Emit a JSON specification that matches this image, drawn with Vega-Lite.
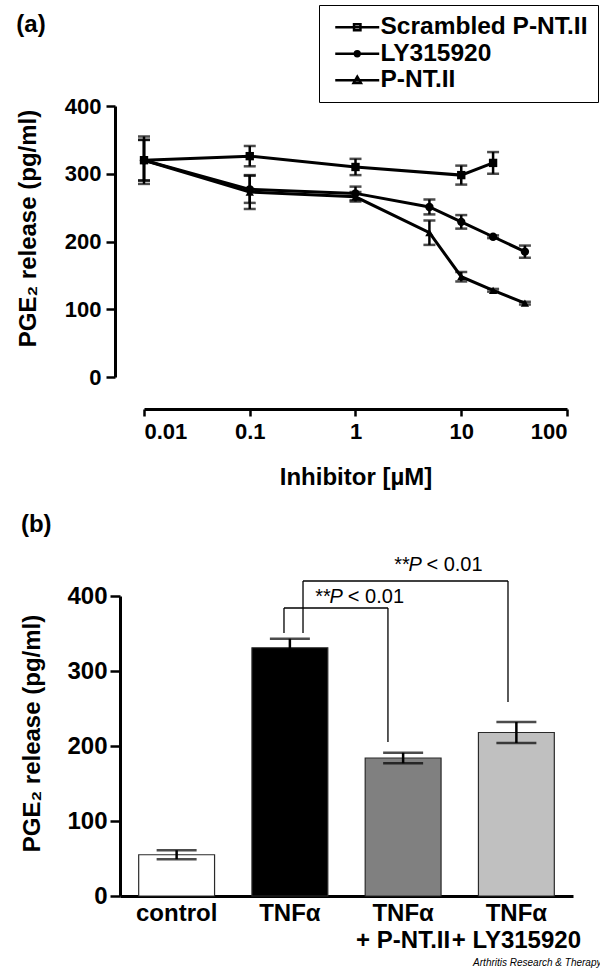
{
  "$schema": "https://vega.github.io/schema/vega-lite/v6.json",
  "background": "white",
  "padding": {"left": 16, "top": 4, "right": 3, "bottom": 3},
  "columns": 1,
  "spacing": 24,
  "config": {
    "font": "Liberation Sans",
    "view": {"stroke": null},
    "axis": {
      "grid": false,
      "domainColor": "black",
      "domainWidth": 3,
      "tickColor": "black",
      "tickWidth": 2.5,
      "labelColor": "black",
      "labelFont": "Liberation Sans",
      "labelFontWeight": "bold",
      "titleFont": "Liberation Sans",
      "titleFontWeight": "bold",
      "titleColor": "black",
      "titleFontSize": 24
    },
    "title": {"font": "Liberation Sans", "fontWeight": "bold", "fontSize": 24, "color": "black", "anchor": "start"}
  },
  "title": {"text": "Arthritis Research & Therapy", "orient": "bottom", "anchor": "end", "fontSize": 10, "fontStyle": "italic", "fontWeight": "normal", "offset": 6, "dx": 3},
  "datasets": {
    "series": [
      {"series": "Scrambled P-NT.II", "conc": 0.01, "mean": 320, "sem": 35},
      {"series": "Scrambled P-NT.II", "conc": 0.1, "mean": 326, "sem": 15},
      {"series": "Scrambled P-NT.II", "conc": 1, "mean": 310, "sem": 12},
      {"series": "Scrambled P-NT.II", "conc": 10, "mean": 298, "sem": 14},
      {"series": "Scrambled P-NT.II", "conc": 20, "mean": 316, "sem": 16},
      {"series": "LY315920", "conc": 0.01, "mean": 320, "sem": 30},
      {"series": "LY315920", "conc": 0.1, "mean": 277, "sem": 20},
      {"series": "LY315920", "conc": 1, "mean": 271, "sem": 10},
      {"series": "LY315920", "conc": 5, "mean": 251, "sem": 11},
      {"series": "LY315920", "conc": 10, "mean": 229, "sem": 10},
      {"series": "LY315920", "conc": 20, "mean": 207, "sem": 2},
      {"series": "LY315920", "conc": 40, "mean": 185, "sem": 9},
      {"series": "P-NT.II", "conc": 0.01, "mean": 320, "sem": 30},
      {"series": "P-NT.II", "conc": 0.1, "mean": 273, "sem": 25},
      {"series": "P-NT.II", "conc": 1, "mean": 266, "sem": 7},
      {"series": "P-NT.II", "conc": 5, "mean": 213, "sem": 18},
      {"series": "P-NT.II", "conc": 10, "mean": 148, "sem": 7},
      {"series": "P-NT.II", "conc": 20, "mean": 128, "sem": 2},
      {"series": "P-NT.II", "conc": 40, "mean": 109, "sem": 2}
    ],
    "bars": [
      {"group": "control", "mean": 55, "sem": 6},
      {"group": "TNFα", "mean": 331, "sem": 12},
      {"group": "TNFα + P-NT.II", "mean": 184, "sem": 7},
      {"group": "TNFα + LY315920", "mean": 218, "sem": 14}
    ],
    "brackets": [
      {"x": 1.448, "x2": 2.366, "y": 384, "y2": 384},
      {"x": 1.448, "x2": 1.448, "y": 384, "y2": 350.7},
      {"x": 2.366, "x2": 2.366, "y": 384, "y2": 205.3},
      {"x": 1.616, "x2": 3.426, "y": 420, "y2": 420},
      {"x": 1.616, "x2": 1.616, "y": 420, "y2": 350.7},
      {"x": 3.426, "x2": 3.426, "y": 420, "y2": 258.7}
    ],
    "ptext": [
      {"t": "**", "x": 1.724, "y": 398.7, "italic": false},
      {"t": "P", "x": 1.850, "y": 398.7, "italic": true},
      {"t": "< 0.01", "x": 2.012, "y": 398.7, "italic": false},
      {"t": "**", "x": 2.421, "y": 441.3, "italic": false},
      {"t": "P", "x": 2.548, "y": 441.3, "italic": true},
      {"t": "< 0.01", "x": 2.706, "y": 441.3, "italic": false}
    ]
  },
  "concat": [
    {
      "width": 447,
      "height": 271,
      "title": {"text": "(a)", "frame": "bounds", "offset": 0, "dy": 32},
      "data": {"name": "series"},
      "encoding": {
        "x": {
          "field": "conc", "type": "quantitative",
          "scale": {"type": "log", "domain": [0.01, 100], "nice": false, "range": [24, 447]},
          "axis": {"values": [0.01, 0.1, 1, 10, 100], "format": "~g", "offset": 32, "tickSize": 7, "labelFontSize": 22, "labelPadding": 5, "title": "Inhibitor [µM]", "titlePadding": 23}
        },
        "y": {
          "field": "mean", "type": "quantitative",
          "scale": {"domain": [0, 400], "nice": false},
          "axis": {"values": [0, 100, 200, 300, 400], "offset": 5, "tickSize": 9, "labelFontSize": 22, "labelPadding": 5, "title": "PGE₂ release (pg/ml)", "titlePadding": 24, "titleY": 122}
        }
      },
      "layer": [
        {
          "mark": {"type": "errorbar", "color": "black", "ticks": {"size": 12, "thickness": 2.5, "color": "black"}, "rule": {"strokeWidth": 2.5}},
          "encoding": {"yError": {"field": "sem"}, "detail": {"field": "series"}}
        },
        {
          "mark": {"type": "line", "color": "black", "strokeWidth": 3},
          "encoding": {"detail": {"field": "series"}}
        },
        {
          "mark": {"type": "point", "filled": true, "opacity": 1, "color": "black", "size": 70},
          "encoding": {
            "shape": {
              "field": "series", "type": "nominal",
              "scale": {"domain": ["Scrambled P-NT.II", "LY315920", "P-NT.II"], "range": ["square", "circle", "triangle-up"]},
              "legend": null
            }
          }
        },
        {
          "mark": {"type": "point", "filled": false, "opacity": 0, "color": "black", "strokeWidth": 2.5, "size": 144},
          "encoding": {
            "shape": {
              "field": "series", "type": "nominal",
              "scale": {"domain": ["Scrambled P-NT.II", "LY315920", "P-NT.II"], "range": ["M-1,0H6.33M2.13,-0.5H3.2V0.5H2.13Z", "M-1,0H6.33M2.267,0A0.4,0.4 0 1,0 3.067,0A0.4,0.4 0 1,0 2.267,0Z", "M-1,0H6.33M2.667,-0.6L3.27,0.45H2.06Z"]},
              "legend": {
                "title": null, "orient": "none", "legendX": 199, "legendY": -101,
                "labelFont": "Liberation Sans", "labelFontSize": 24.5, "labelFontWeight": "bold", "labelColor": "black", "labelLimit": 400,
                "symbolSize": 144, "symbolFillColor": "black", "symbolStrokeColor": "black", "symbolStrokeWidth": 2.5, "symbolOpacity": 1,
                "labelOffset": 27, "rowPadding": 1.5, "padding": 10, "strokeColor": "black",
                "encode": {"legend": {"update": {"strokeWidth": {"value": 2.5}}}}
              }
            }
          }
        }
      ],
      "resolve": {"scale": {"shape": "independent"}}
    },
    {
      "width": 453,
      "height": 300,
      "title": {"text": "(b)", "frame": "bounds", "offset": 18},
      "layer": [
        {
          "data": {"name": "bars"},
          "layer": [
            {
              "mark": {"type": "bar", "stroke": "#2a2a2a", "strokeWidth": 1.2},
              "encoding": {
                "x": {
                  "field": "group", "type": "nominal", "sort": null,
                  "scale": {"paddingInner": 0.33, "paddingOuter": 0.165},
                  "axis": {"title": null, "labelAngle": 0, "ticks": false, "labelFontSize": 24, "labelPadding": 5, "labelLineHeight": 27, "labelBaseline": "top", "labelLimit": 300,
                    "labelExpr": "indexof(datum.label, ' + ') > 0 ? [substring(datum.label, 0, indexof(datum.label, ' + ')), substring(datum.label, indexof(datum.label, ' + ') + 1)] : datum.label"}
                },
                "y": {
                  "field": "mean", "type": "quantitative",
                  "scale": {"domain": [0, 400], "nice": false},
                  "title": "PGE₂ release (pg/ml)",
                  "axis": {"values": [0, 100, 200, 300, 400], "tickSize": 10, "labelFontSize": 24, "labelPadding": 3, "title": "PGE₂ release (pg/ml)", "titlePadding": 22, "titleY": 137}
                },
                "fill": {
                  "field": "group", "type": "nominal",
                  "scale": {"domain": ["control", "TNFα", "TNFα + P-NT.II", "TNFα + LY315920"], "range": ["#ffffff", "#000000", "#808080", "#c0c0c0"]},
                  "legend": null
                }
              }
            },
            {
              "mark": {"type": "errorbar", "color": "black", "ticks": {"size": 40, "thickness": 2.5, "color": "black"}, "rule": {"strokeWidth": 2.5}},
              "encoding": {
                "x": {"field": "group", "type": "nominal", "sort": null},
                "y": {"field": "mean", "type": "quantitative", "scale": {"domain": [0, 400], "nice": false}, "title": "PGE₂ release (pg/ml)"},
                "yError": {"field": "sem"}
              }
            }
          ]
        },
        {
          "layer": [
            {
              "data": {"name": "brackets"},
              "mark": {"type": "rule", "color": "black", "strokeWidth": 1.3},
              "encoding": {
                "x": {"field": "x", "type": "quantitative", "scale": {"domain": [0, 4], "nice": false, "zero": false}, "axis": null},
                "x2": {"field": "x2"},
                "y": {"field": "y", "type": "quantitative", "scale": {"domain": [0, 400], "nice": false}, "title": "PGE₂ release (pg/ml)"},
                "y2": {"field": "y2"}
              }
            },
            {
              "data": {"name": "ptext"},
              "transform": [{"filter": "!datum.italic"}],
              "mark": {"type": "text", "align": "left", "baseline": "middle", "fontSize": 20, "font": "Liberation Sans", "color": "black"},
              "encoding": {
                "x": {"field": "x", "type": "quantitative", "scale": {"domain": [0, 4], "nice": false, "zero": false}, "axis": null},
                "y": {"field": "y", "type": "quantitative", "scale": {"domain": [0, 400], "nice": false}, "title": "PGE₂ release (pg/ml)"},
                "text": {"field": "t"}
              }
            },
            {
              "data": {"name": "ptext"},
              "transform": [{"filter": "datum.italic"}],
              "mark": {"type": "text", "align": "left", "baseline": "middle", "fontSize": 20, "fontStyle": "italic", "font": "Liberation Sans", "color": "black"},
              "encoding": {
                "x": {"field": "x", "type": "quantitative", "scale": {"domain": [0, 4], "nice": false, "zero": false}, "axis": null},
                "y": {"field": "y", "type": "quantitative", "scale": {"domain": [0, 400], "nice": false}, "title": "PGE₂ release (pg/ml)"},
                "text": {"field": "t"}
              }
            }
          ]
        }
      ],
      "resolve": {"scale": {"x": "independent"}}
    }
  ]
}
